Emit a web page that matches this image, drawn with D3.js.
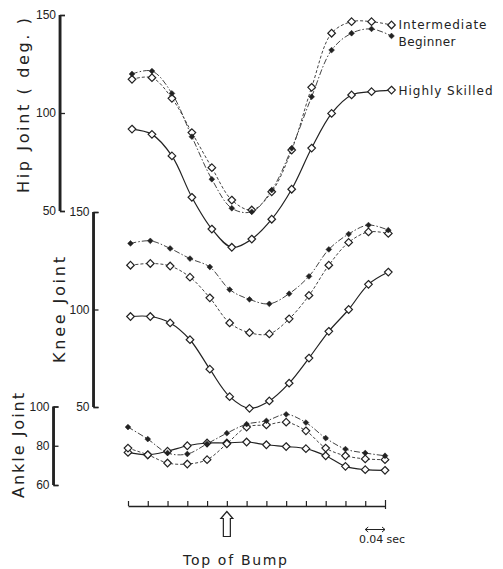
<!DOCTYPE html>
<html>
<head>
    <meta charset="utf-8">
    <title>Joint angles over the bump</title>
    <script src="https://d3js.org/d3.v7.min.js"></script>
    <style>
        body { margin: 0; background: #fff; }
        svg { font-family: "DejaVu Sans", sans-serif; }
        .tick text { font-family: "Liberation Sans", sans-serif; font-size: 12px; fill: #222; }
    </style>
</head>
<body>
<script>
    // time of each frame, sec (0 = top of bump), one tick = 0.04 sec
    var times = [-0.20, -0.16, -0.12, -0.08, -0.04, 0, 0.04, 0.08, 0.12, 0.16, 0.20, 0.24, 0.28, 0.32];

    // hip joint angle (deg.)
    var hipHighly = [91.8, 89.1, 78.1, 57.0, 40.8, 31.5, 35.7, 45.8, 61.1, 82.1, 99.8, 109.2, 110.9, 111.7];
    var hipInter  = [117.2, 118, 107.5, 90, 72.1, 55.6, 50.5, 59.8, 81.1, 113.1, 140.7, 146.6, 146.6, 144.9];
    var hipBegin  = [119.9, 121.4, 110, 87.9, 66.2, 51.4, 49.6, 60.7, 82, 108.3, 132.1, 140.7, 142.9, 139.3];

    // knee joint angle
    var kneeHighly = [96.4, 96.4, 93.1, 84.5, 69.4, 55.3, 49.3, 53.1, 62.2, 75.1, 88.8, 100, 112.9, 119.2];
    var kneeInter  = [122.7, 123.6, 122.3, 116.6, 106, 93.1, 88.1, 87.5, 95.2, 107.2, 122.7, 134.4, 139.8, 139];
    var kneeBegin  = [133.9, 135.2, 131.3, 126.1, 121.8, 110.2, 105.2, 102.9, 108.1, 117, 130.8, 138.7, 143.3, 140.7];

    // ankle joint angle
    var ankleHighly = [76.6, 75.4, 77.2, 80, 81.4, 81.4, 81.9, 80.5, 79.6, 78.5, 74.9, 69.5, 67.8, 67.5];
    var ankleInter  = [78.8, 75.4, 71.2, 70.7, 72.9, 81, 89.5, 90.6, 92, 87.6, 78.8, 74.9, 73.3, 72.9];
    var ankleBegin  = [89.5, 83.4, 76.3, 75.8, 81, 86.4, 91, 92.7, 96, 91.8, 83.9, 78.3, 76.3, 74.9];

    var hipTicks = [50, 100, 150];
    var kneeTicks = [50, 100, 150];
    var ankleTicks = [60, 80, 100];

    var groups = ["Highly Skilled", "Intermediate", "Beginner"];

    var width = 503, height = 569;

    var svg = d3.select("body").append("svg")
        .attr("width", width)
        .attr("height", height);

    // the three panels share the time axis, each has its own angle scale
    var panels = [
        { name: "Hip Joint ( deg. )", series: [hipHighly, hipInter, hipBegin], ticks: hipTicks,
          y: d3.scaleLinear().domain([50, 150]).range([211, 15]),
          x: d3.scaleLinear().domain([-0.20, 0.32]).range([132, 391.5]),
          axisX: 60, label: { x: 29, y: 193, len: 175 } },
        { name: "Knee Joint", series: [kneeHighly, kneeInter, kneeBegin], ticks: kneeTicks,
          y: d3.scaleLinear().domain([50, 150]).range([407, 212]),
          x: d3.scaleLinear().domain([-0.20, 0.32]).range([130.5, 388.3]),
          axisX: 93.5, label: { x: 65, y: 363, len: 106 } },
        { name: "Ankle Joint", series: [ankleHighly, ankleInter, ankleBegin], ticks: ankleTicks,
          y: d3.scaleLinear().domain([60, 100]).range([485, 406.5]),
          x: d3.scaleLinear().domain([-0.20, 0.32]).range([128, 385]),
          axisX: 53.5, label: { x: 24, y: 498, len: 105 } }
    ];

    var styles = {
        "Highly Skilled": { dash: null, filled: false },
        "Intermediate": { dash: "3,2", filled: false },
        "Beginner": { dash: "6,2,1.5,2", filled: true }
    };

    function diamond(r) {
        return "M0," + (-r) + "L" + r + ",0L0," + r + "L" + (-r) + ",0Z";
    }

    panels.forEach(function (p) {
        // y axis: thick bar with ticks to the right, numbers on the left
        var ax = svg.append("g")
            .attr("transform", "translate(" + p.axisX + ",0)")
            .call(d3.axisRight(p.y).tickValues(p.ticks).tickSize(5).tickFormat(d3.format("d")));
        ax.select(".domain").attr("stroke", "#222").attr("stroke-width", 1.3);
        ax.selectAll(".tick line").attr("stroke", "#222").attr("stroke-width", 1.3);
        ax.selectAll(".tick text").attr("x", -4).attr("text-anchor", "end");
        ax.append("line")
            .attr("x1", 0).attr("x2", 0)
            .attr("y1", p.y.range()[0]).attr("y2", p.y.range()[1])
            .attr("stroke", "#222").attr("stroke-width", 2.8);

        svg.append("text")
            .attr("transform", "translate(" + p.label.x + "," + p.label.y + ") rotate(-90)")
            .attr("textLength", p.label.len)
            .attr("lengthAdjust", "spacing")
            .style("font-size", "16px")
            .style("fill", "#222")
            .text(p.name);

        var line = d3.line()
            .x(function (d, i) { return p.x(times[i]); })
            .y(function (d) { return p.y(d); })
            .curve(d3.curveCatmullRom.alpha(0.5));

        p.series.forEach(function (values, k) {
            var st = styles[groups[k]];
            svg.append("path")
                .datum(values)
                .attr("d", line)
                .attr("fill", "none")
                .attr("stroke", st.filled || st.dash ? "#444" : "#222")
                .attr("stroke-width", st.dash ? 1 : 1.2)
                .attr("stroke-dasharray", st.dash);
        });

        p.series.forEach(function (values, k) {
            var st = styles[groups[k]];
            svg.append("g").selectAll("path")
                .data(values)
                .enter().append("path")
                .attr("transform", function (d, i) { return "translate(" + p.x(times[i]) + "," + p.y(d) + ")"; })
                .attr("d", st.filled ? diamond(2.9) : diamond(3.8))
                .attr("fill", st.filled ? "#222" : "#fff")
                .attr("stroke", "#222")
                .attr("stroke-width", st.filled ? 0.5 : 1.2);
        });
    });

    // group names next to the last hip points
    var hip = panels[0];
    var legend = [
        { name: "Intermediate", values: hipInter, dy: 4.3, len: 88 },
        { name: "Beginner", values: hipBegin, dy: 10, len: 57 },
        { name: "Highly Skilled", values: hipHighly, dy: 5, len: 94 }
    ];
    svg.selectAll(".legend")
        .data(legend)
        .enter().append("text")
        .attr("class", "legend")
        .attr("x", hip.x(times[times.length - 1]) + 7)
        .attr("y", function (d) { return hip.y(d.values[d.values.length - 1]) + d.dy; })
        .attr("textLength", function (d) { return d.len; })
        .attr("lengthAdjust", "spacing")
        .style("font-size", "12px")
        .style("fill", "#222")
        .text(function (d) { return d.name; });

    // time axis
    var xTime = panels[2].x;
    var xAxis = svg.append("g")
        .attr("transform", "translate(0,506)")
        .call(d3.axisBottom(xTime).tickValues(times).tickSizeInner(-5).tickSizeOuter(0).tickFormat(""));
    xAxis.select(".domain").attr("stroke", "#222").attr("stroke-width", 1.6);
    xAxis.selectAll(".tick line").attr("stroke", "#222").attr("stroke-width", 1.2);
    xAxis.select(".tick:last-of-type line").attr("y2", 3).attr("y1", -6);

    // hollow arrow at top of bump
    svg.append("path")
        .attr("transform", "translate(" + xTime(0) + ",0)")
        .attr("d", "M0,511.5L6,518.5L3.5,518.5L3.5,536.5L-3.5,536.5L-3.5,518.5L-6,518.5Z")
        .attr("fill", "#fff")
        .attr("stroke", "#222")
        .attr("stroke-width", 1.2);

    svg.append("text")
        .attr("x", 183)
        .attr("y", 565)
        .attr("textLength", 104)
        .attr("lengthAdjust", "spacing")
        .style("font-size", "14px")
        .style("fill", "#222")
        .text("Top of Bump");

    // scale bar: one tick interval
    var a0 = xTime(times[12]), a1 = xTime(times[13]);
    svg.append("path")
        .attr("d", "M" + a0 + ",529.5H" + a1 +
            "M" + (a0 + 3) + ",527L" + a0 + ",529.5L" + (a0 + 3) + ",532" +
            "M" + (a1 - 3) + ",527L" + a1 + ",529.5L" + (a1 - 3) + ",532")
        .attr("fill", "none")
        .attr("stroke", "#222")
        .attr("stroke-width", 1);

    svg.append("text")
        .attr("x", 359)
        .attr("y", 543)
        .attr("textLength", 46)
        .attr("lengthAdjust", "spacing")
        .style("font-size", "11px")
        .style("fill", "#222")
        .text("0.04 sec");
</script>
</body>
</html>
